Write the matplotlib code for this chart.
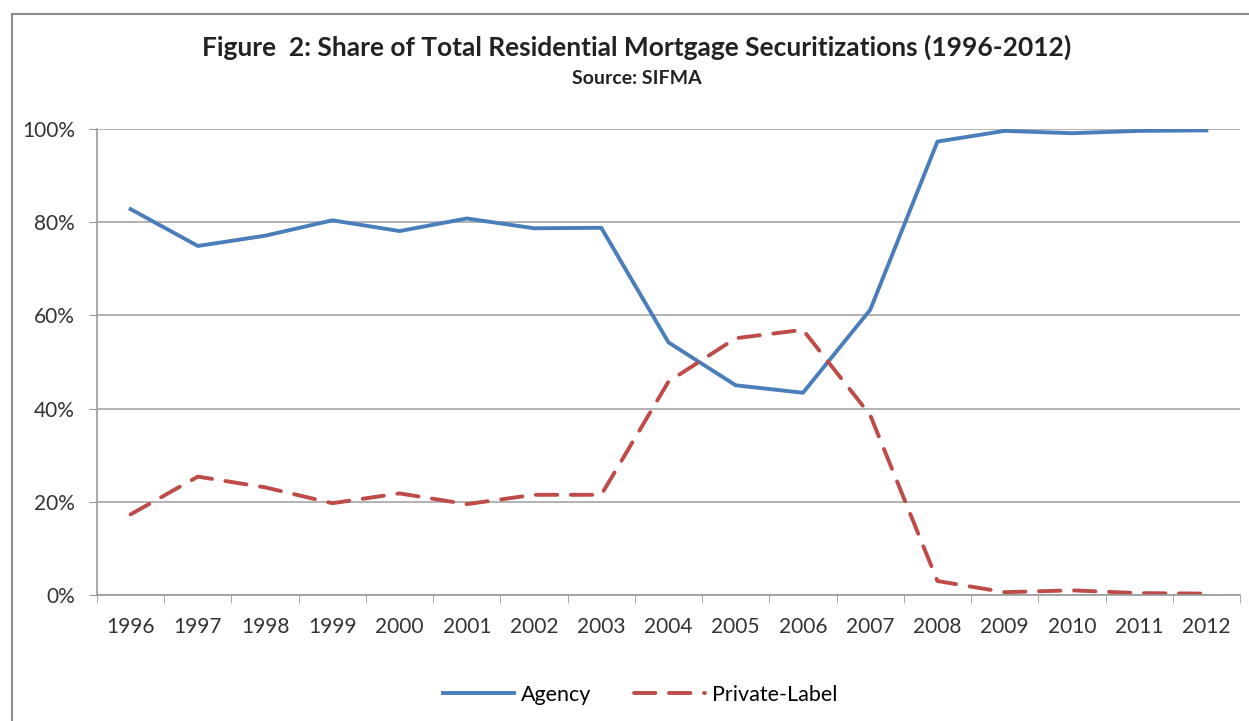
import matplotlib.pyplot as plt
from matplotlib.patches import Rectangle
from matplotlib.ticker import FuncFormatter

years = ['1996', '1997', '1998', '1999', '2000', '2001', '2002', '2003', '2004',
         '2005', '2006', '2007', '2008', '2009', '2010', '2011', '2012']
agency = [82.8, 74.9, 77.1, 80.4, 78.1, 80.8, 78.7, 78.8, 54.2,
          45.0, 43.4, 61.2, 97.3, 99.6, 99.1, 99.6, 99.7]
private_label = [17.3, 25.4, 23.1, 19.7, 21.8, 19.5, 21.5, 21.5, 45.8,
                 55.1, 56.9, 38.6, 3.0, 0.6, 1.0, 0.4, 0.3]

plt.rcParams['font.family'] = ['Lato', 'DejaVu Sans']

fig = plt.figure(figsize=(12.49, 7.21), dpi=100)
W, H = 1249, 721

# outer chart frame
fig.patches.append(Rectangle((12 / W, -0.1), 1.2, (721 - 14) / H + 0.1,
                             transform=fig.transFigure, fill=False,
                             edgecolor='#8c8c8c', linewidth=1.5))

ax = fig.add_axes([97 / W, (721 - 595) / H, (1240 - 97) / W, (595 - 129) / H])
x = list(range(len(years)))
ax.plot(x, agency, color='#4A7EBB', linewidth=2.8, label='Agency',
        solid_joinstyle='round')
ax.plot(x, private_label, color='#BE4B48', linewidth=2.8, label='Private-Label',
        linestyle=(0, (5.5, 3.5)), dash_capstyle='round')

ax.set_xlim(-0.5, len(years) - 0.5)
ax.set_ylim(0, 100)
ax.set_yticks([0, 20, 40, 60, 80, 100])
ax.yaxis.set_major_formatter(FuncFormatter(lambda v, p: f'{int(v)}%'))
ax.set_xticks(x)
ax.set_xticklabels(years)
ax.set_xticks([i - 0.5 for i in range(len(years) + 1)], minor=True)
ax.tick_params(axis='x', which='major', length=0, pad=16, labelsize=15, colors='#333333')
ax.tick_params(axis='x', which='minor', length=6, color='#9a9a9a')
ax.tick_params(axis='y', length=6, color='#9a9a9a', pad=10, labelsize=15, labelcolor='#333333')
ax.grid(axis='y', color='#a6a6a6', linewidth=1.2)
ax.set_axisbelow(True)
for s in ['top', 'right']:
    ax.spines[s].set_visible(False)
for s in ['left', 'bottom']:
    ax.spines[s].set_color('#9a9a9a')
    ax.spines[s].set_linewidth(1.2)

fig.text(637 / W, 1 - 47 / H, 'Figure  2: Share of Total Residential Mortgage Securitizations (1996-2012)',
         ha='center', va='center', fontsize=19, fontweight='bold', color='#222222')
fig.text(637 / W, 1 - 79 / H, 'Source: SIFMA', ha='center', va='center',
         fontsize=14, fontweight='bold', color='#222222')

fig.legend(loc='center', bbox_to_anchor=(640 / W, 1 - 695 / H), ncol=2, frameon=False,
           fontsize=15.5, handlelength=3.3, handletextpad=0.3, columnspacing=2.0)

fig.savefig('out.png', dpi=100)
